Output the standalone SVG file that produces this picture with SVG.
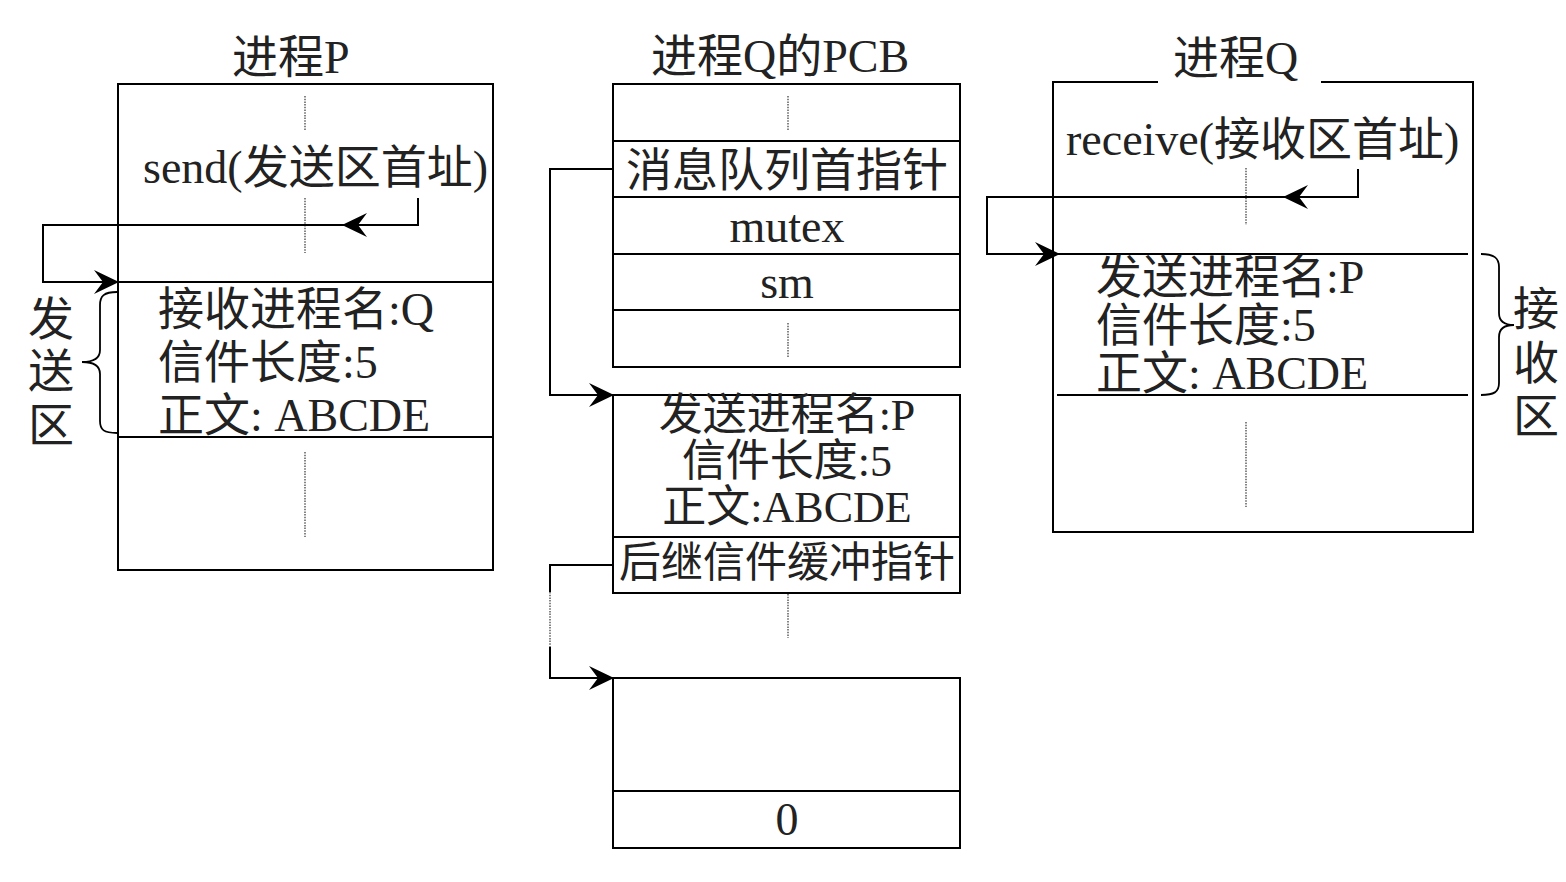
<svg xmlns="http://www.w3.org/2000/svg" width="1566" height="882" viewBox="0 0 1566 882">
<defs>
<style>
.box{fill:none;stroke:#000;stroke-width:2}
.ln{fill:none;stroke:#000;stroke-width:2}
.dot{fill:none;stroke:#444;stroke-width:1.3;stroke-dasharray:1.5 1.2}
.conn{fill:none;stroke:#000;stroke-width:2}
.brace{fill:none;stroke:#000;stroke-width:1.8}
.t{font-family:"Liberation Serif","Noto Sans CJK SC",serif;font-size:46px;fill:#222}
.s{font-size:44px}
.m{text-anchor:middle}
</style>
<marker id="arr" viewBox="-26 -14 28 28" refX="0" refY="0" markerWidth="28" markerHeight="28" markerUnits="userSpaceOnUse" orient="auto">
<path d="M1,0 L-24,-12 L-15,0 L-24,12 Z" fill="#000"/>
</marker>
</defs>
<rect width="1566" height="882" fill="#fff"/>

<g id="processP">
<text class="t" x="232" y="73">进程P</text>
<rect class="box" x="118" y="84" width="375" height="486"/>
<line class="ln" x1="118" y1="282" x2="493" y2="282"/>
<line class="ln" x1="118" y1="437" x2="493" y2="437"/>
<line class="dot" x1="305" y1="96" x2="305" y2="131"/>
<line class="dot" x1="305" y1="198" x2="305" y2="253"/>
<line class="dot" x1="305" y1="452" x2="305" y2="537"/>
<text class="t" x="143" y="183">send(发送区首址)</text>
<text class="t" x="158" y="325">接收进程名:Q</text>
<text class="t" x="158" y="378">信件长度:5</text>
<text class="t" x="158" y="431">正文: ABCDE</text>
</g>

<g id="sendArea">
<path class="brace" d="M117,292 C104,292 100,296 100,305 L100,350 C100,358 94,362 82,362 C94,362 100,366 100,374 L100,421 C100,430 104,433 117,433"/>
<text class="t m" x="51" y="335">发</text>
<text class="t m" x="51" y="387">送</text>
<text class="t m" x="51" y="441">区</text>
</g>

<g id="pcbQ">
<text class="t m" x="780" y="72">进程Q的PCB</text>
<rect class="box" x="613" y="84" width="347" height="283"/>
<line class="ln" x1="613" y1="141" x2="960" y2="141"/>
<line class="ln" x1="613" y1="197" x2="960" y2="197"/>
<line class="ln" x1="613" y1="254" x2="960" y2="254"/>
<line class="ln" x1="613" y1="310" x2="960" y2="310"/>
<line class="dot" x1="788" y1="96" x2="788" y2="130"/>
<line class="dot" x1="788" y1="323" x2="788" y2="358"/>
<text class="t m" x="787" y="186">消息队列首指针</text>
<text class="t m" x="787" y="242">mutex</text>
<text class="t m" x="787" y="298">sm</text>
</g>

<g id="message1">
<rect class="box" x="613" y="395" width="347" height="198"/>
<line class="ln" x1="613" y1="537" x2="960" y2="537"/>
<text class="t s m" x="787" y="430">发送进程名:P</text>
<text class="t s m" x="787" y="476">信件长度:5</text>
<text class="t s m" x="787" y="522">正文:ABCDE</text>
<text class="t m" x="787" y="577" style="font-size:42px">后继信件缓冲指针</text>
<line class="dot" x1="788" y1="594" x2="788" y2="638"/>
</g>

<g id="message2">
<rect class="box" x="613" y="678" width="347" height="170"/>
<line class="ln" x1="613" y1="791" x2="960" y2="791"/>
<text class="t m" x="787" y="835">0</text>
</g>

<g id="processQ">
<text class="t" x="1173" y="74">进程Q</text>
<path class="box" d="M1158,82 H1053 V532 H1473 V82 H1321"/>
<line class="ln" x1="1057" y1="254" x2="1468" y2="254"/>
<line class="ln" x1="1057" y1="395" x2="1468" y2="395"/>
<line class="dot" x1="1246" y1="168" x2="1246" y2="225"/>
<line class="dot" x1="1246" y1="422" x2="1246" y2="507"/>
<text class="t" x="1066" y="155">receive(接收区首址)</text>
<text class="t" x="1096" y="293">发送进程名:P</text>
<text class="t" x="1096" y="341">信件长度:5</text>
<text class="t" x="1096" y="389">正文: ABCDE</text>
</g>

<g id="recvArea">
<path class="brace" d="M1481,254 C1494,254 1499,258 1499,267 L1499,313 C1499,321 1504,325 1514,325 C1504,325 1499,329 1499,337 L1499,383 C1499,392 1494,395 1481,395"/>
<text class="t m" x="1536" y="325">接</text>
<text class="t m" x="1536" y="379">收</text>
<text class="t m" x="1536" y="432">区</text>
</g>

<g id="connectors">
<path class="conn" d="M418,198 V225 H343" marker-end="url(#arr)"/>
<path class="conn" d="M343,225 H43 V282 H118" marker-end="url(#arr)"/>
<path class="conn" d="M1358,169 V197 H1284" marker-end="url(#arr)"/>
<path class="conn" d="M1284,197 H987 V254 H1059" marker-end="url(#arr)"/>
<path class="conn" d="M613,169 H550 V395 H613" marker-end="url(#arr)"/>
<path class="conn" d="M613,565 H550 V592"/>
<line class="dot" x1="550" y1="592" x2="550" y2="647"/>
<path class="conn" d="M550,647 V678 H613" marker-end="url(#arr)"/>
</g>
</svg>
